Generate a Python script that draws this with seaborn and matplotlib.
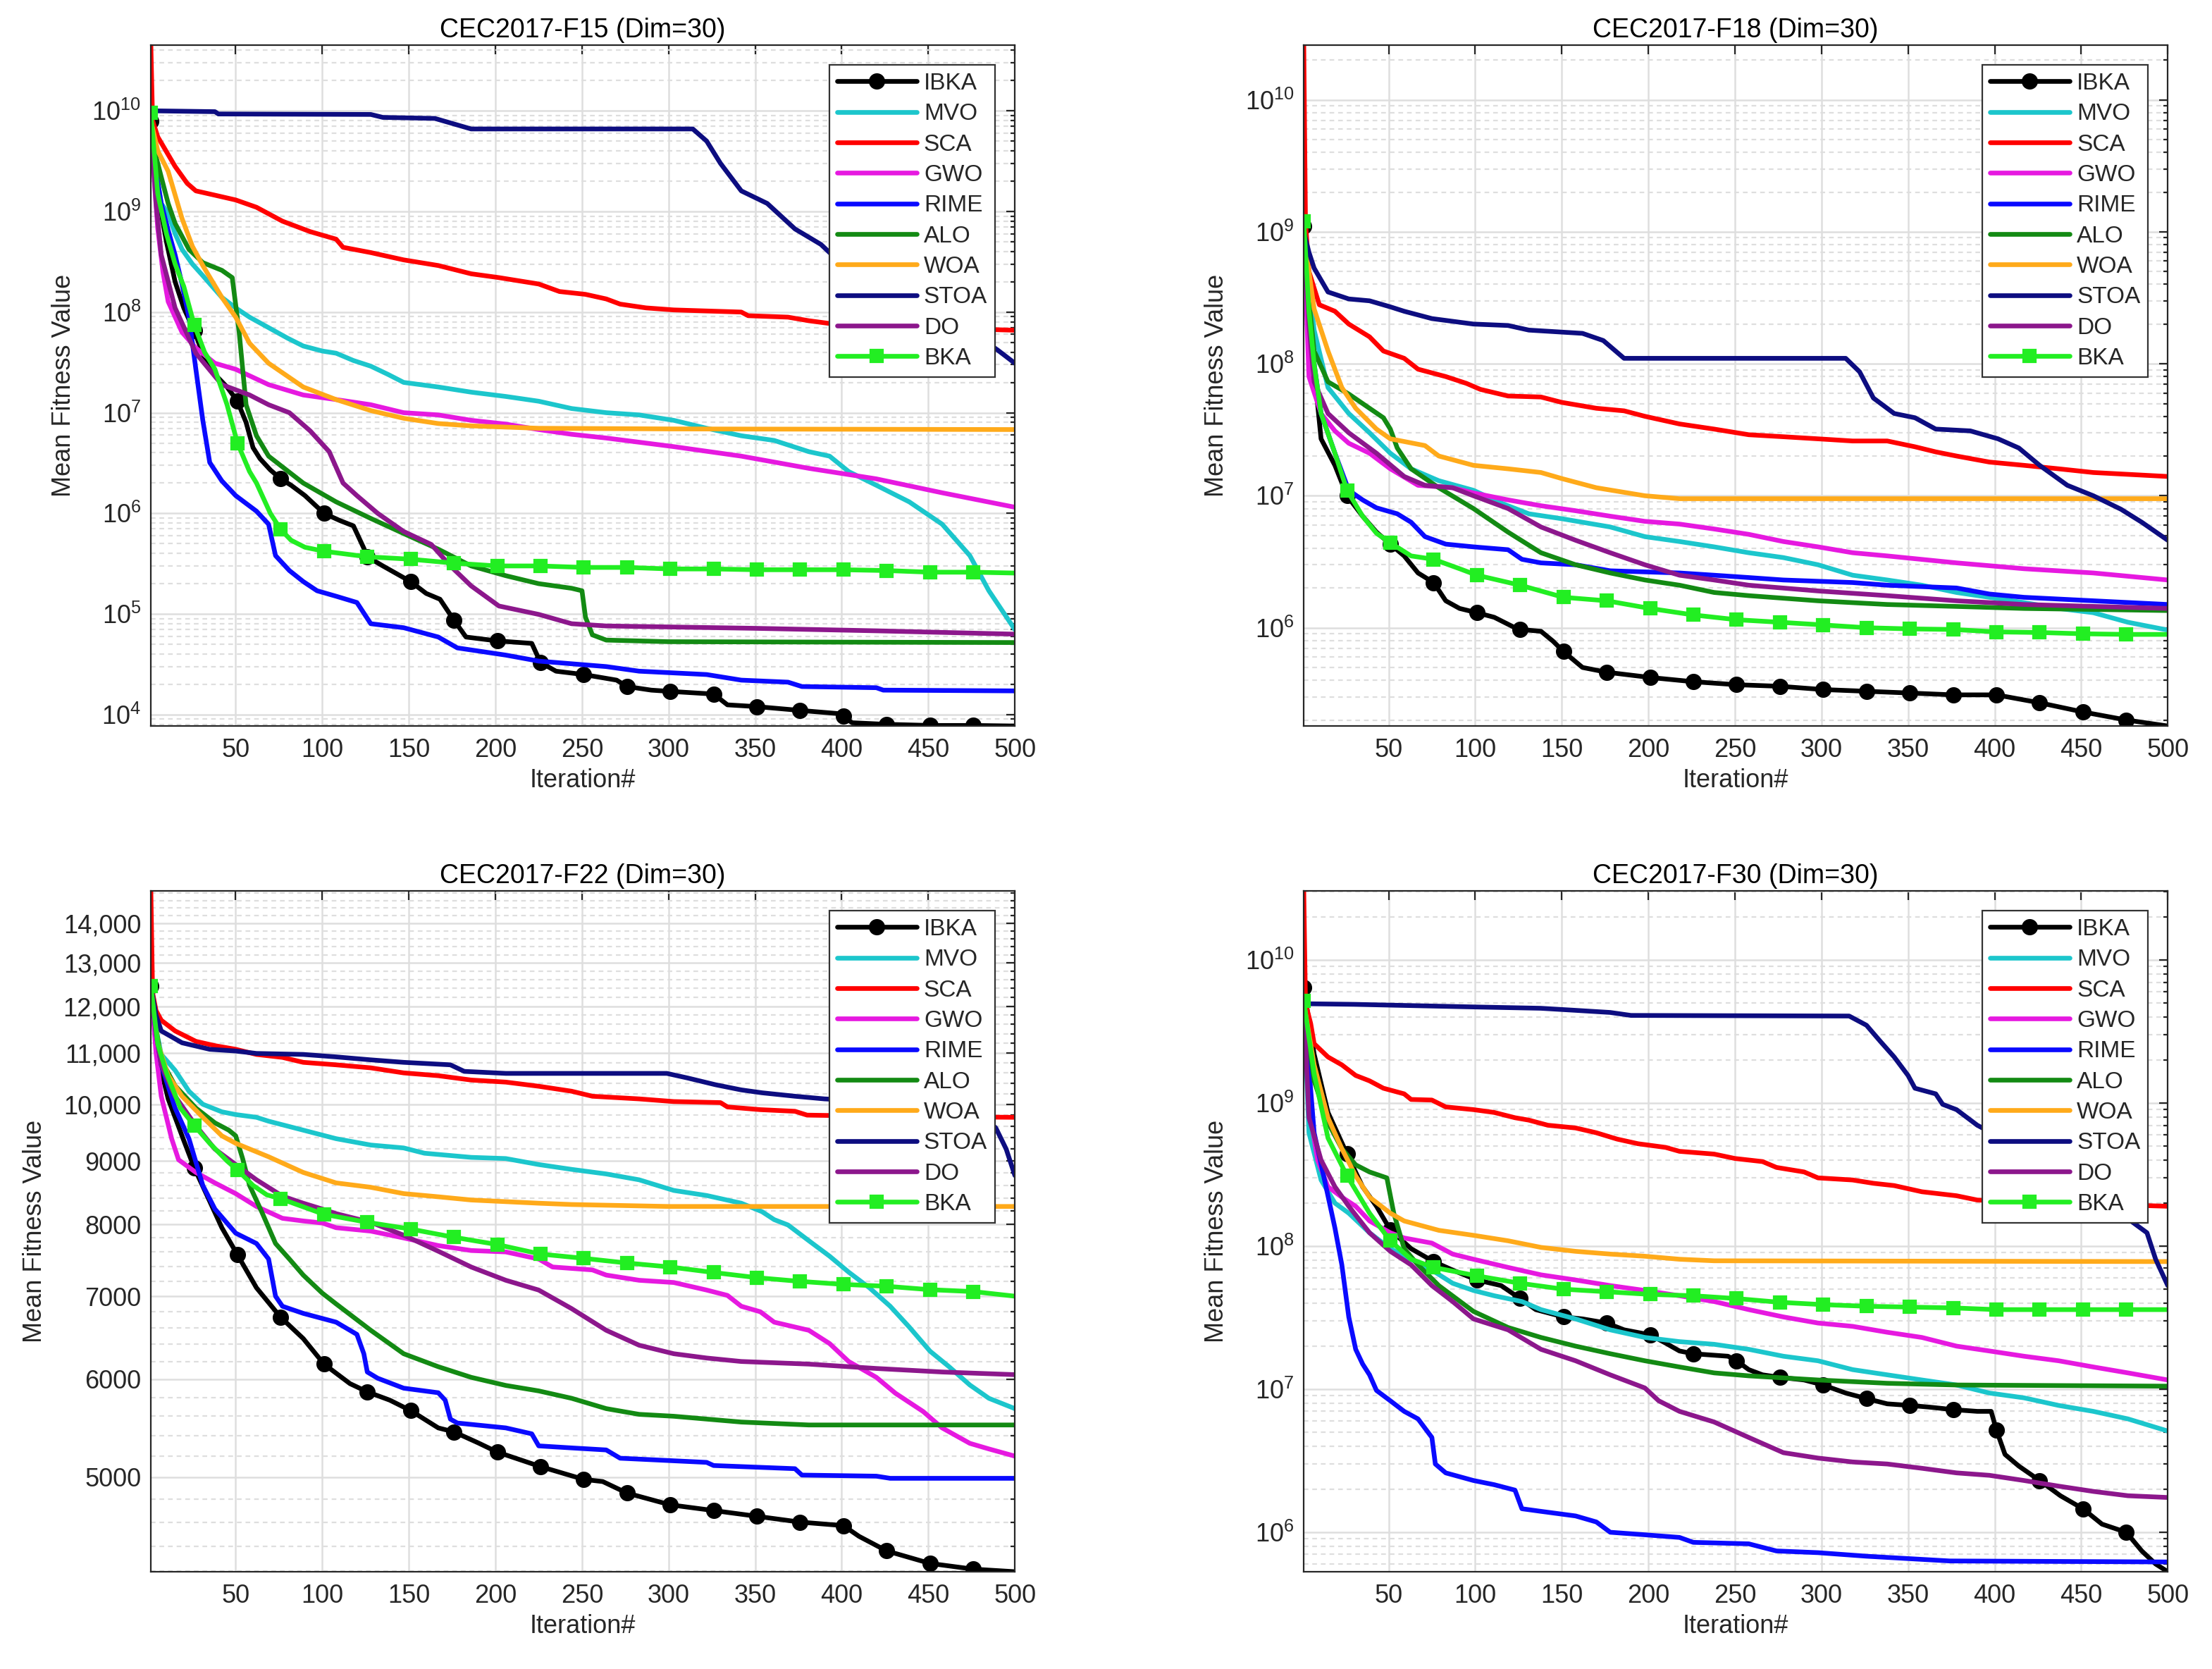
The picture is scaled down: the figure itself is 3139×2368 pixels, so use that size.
import numpy as np
import pandas as pd
import matplotlib
matplotlib.use("Agg")
import matplotlib.pyplot as plt
import seaborn as sns
from matplotlib.ticker import (FixedLocator, FixedFormatter, LogLocator,
                               LogFormatterSciNotation, MultipleLocator, NullFormatter)

# algorithm order = legend order = drawing order
ALGOS = ["IBKA", "MVO", "SCA", "GWO", "RIME", "ALO", "WOA", "STOA", "DO", "BKA"]
COLORS = ["#000000", "#1cc6cc", "#ff0000", "#e619e0", "#0a0aff",
          "#138a13", "#ffaa1a", "#0d0d80", "#8c178c", "#22ee22"]
MARKERS = {"IBKA": "o", "BKA": "s"}

TITLES = ["CEC2017-F15 (Dim=30)", "CEC2017-F18 (Dim=30)",
          "CEC2017-F22 (Dim=30)", "CEC2017-F30 (Dim=30)"]
X_TICKS = [50, 100, 150, 200, 250, 300, 350, 400, 450, 500]
F22_TICKS = [5000, 6000, 7000, 8000, 9000, 10000, 11000, 12000, 13000, 14000]

# ---- F15 : (iteration, mean fitness) ----
F15_IBKA = [(1, 7.9e9), (5, 1.5e9), (10, 5e8), (15, 2e8), (20, 1.1e8), (26, 6.5e7), (32, 3.5e7),
            (38, 2.4e7), (45, 1.8e7), (51, 1.3e7), (56, 8e6), (60, 4.5e6), (64, 3.5e6), (70, 2.7e6),
            (76, 2.2e6), (82, 1.9e6), (90, 1.5e6), (101, 1.0e6), (110, 8.5e5), (118, 7.5e5),
            (124, 4.5e5), (126, 3.7e5), (135, 3.0e5), (145, 2.4e5), (151, 2.1e5), (160, 1.6e5),
            (168, 1.4e5), (176, 8.7e4), (183, 5.9e4), (201, 5.4e4), (221, 5.1e4), (226, 3.3e4),
            (235, 2.7e4), (251, 2.5e4), (270, 2.2e4), (276, 1.9e4), (290, 1.75e4), (301, 1.7e4),
            (326, 1.6e4), (334, 1.25e4), (351, 1.2e4), (376, 1.1e4), (399, 1.02e4), (401, 9.6e3),
            (406, 8.3e3), (426, 8.0e3), (451, 7.8e3), (476, 7.8e3), (500, 7.7e3)]
F15_MVO = [(1, 8e9), (4, 2.5e9), (7, 1.2e9), (11, 9.6e8), (15, 6e8), (19, 4.2e8), (25, 3e8),
           (31, 2.3e8), (42, 1.4e8), (50, 1.1e8), (58, 8.9e7), (69, 7e7), (80, 5.5e7), (89, 4.6e7),
           (100, 4.1e7), (108, 3.9e7), (118, 3.3e7), (128, 2.9e7), (138, 2.4e7), (147, 2.0e7),
           (167, 1.8e7), (186, 1.6e7), (206, 1.45e7), (225, 1.3e7), (244, 1.1e7), (264, 1.0e7),
           (283, 9.5e6), (303, 8.4e6), (322, 7e6), (342, 5.9e6), (361, 5.3e6), (381, 4.1e6),
           (393, 3.7e6), (404, 2.6e6), (420, 1.9e6), (439, 1.3e6), (458, 7.8e5), (474, 3.8e5),
           (485, 1.7e5), (500, 7.0e4)]
F15_SCA = [(1, 4.5e10), (2, 8e9), (5, 5.5e9), (9, 4.2e9), (15, 2.8e9), (22, 1.9e9), (27, 1.6e9),
           (38, 1.45e9), (50, 1.3e9), (62, 1.1e9), (77, 8e8), (93, 6.3e8), (108, 5.3e8),
           (112, 4.4e8), (128, 3.9e8), (147, 3.3e8), (167, 2.9e8), (178, 2.6e8), (186, 2.4e8),
           (202, 2.2e8), (225, 1.9e8), (237, 1.6e8), (252, 1.5e8), (264, 1.35e8), (272, 1.2e8),
           (287, 1.1e8), (303, 1.05e8), (342, 1.0e8), (346, 9.2e7), (369, 8.9e7), (381, 8.2e7),
           (393, 7.7e7), (430, 7.2e7), (460, 6.9e7), (500, 6.6e7)]
F15_GWO = [(1, 8e9), (3, 2e9), (5, 6.7e8), (8, 2.5e8), (11, 1.27e8), (19, 6.3e7), (27, 4.4e7),
           (38, 3.1e7), (50, 2.7e7), (69, 1.9e7), (89, 1.5e7), (108, 1.35e7), (128, 1.2e7),
           (147, 1.0e7), (167, 9.5e6), (186, 8.4e6), (206, 7.7e6), (225, 6.8e6), (244, 6.1e6),
           (264, 5.6e6), (303, 4.6e6), (342, 3.7e6), (381, 2.8e6), (420, 2.2e6), (458, 1.6e6),
           (500, 1.15e6)]
F15_RIME = [(1, 8e9), (4, 2.5e9), (7, 1.2e9), (11, 6.5e8), (15, 3.7e8), (19, 1.9e8), (23, 8.9e7),
            (27, 2.7e7), (31, 8.4e6), (35, 3.2e6), (42, 2.1e6), (50, 1.5e6), (62, 1.05e6),
            (69, 7.8e5), (73, 3.8e5), (81, 2.7e5), (89, 2.1e5), (97, 1.7e5), (108, 1.5e5),
            (120, 1.3e5), (128, 8.0e4), (147, 7.3e4), (167, 5.9e4), (178, 4.6e4), (206, 3.9e4),
            (225, 3.4e4), (264, 3.0e4), (283, 2.7e4), (322, 2.5e4), (342, 2.2e4), (369, 2.1e4),
            (377, 1.9e4), (420, 1.85e4), (424, 1.75e4), (500, 1.72e4)]
F15_ALO = [(1, 8e9), (4, 3.5e9), (7, 2.2e9), (11, 1.2e9), (15, 7.6e8), (23, 4.2e8), (31, 3.1e8),
           (42, 2.6e8), (48, 2.2e8), (52, 6.3e7), (56, 1.2e7), (62, 5.9e6), (69, 3.7e6),
           (89, 2.0e6), (108, 1.3e6), (128, 8.9e5), (147, 6.3e5), (167, 4.4e5), (186, 3.0e5),
           (206, 2.4e5), (225, 2.0e5), (244, 1.8e5), (250, 1.7e5), (252, 9.3e4), (256, 6.2e4),
           (264, 5.5e4), (300, 5.3e4), (500, 5.2e4)]
F15_WOA = [(1, 8e9), (5, 4e9), (11, 2.5e9), (19, 8.5e8), (25, 4.5e8), (31, 2.9e8), (42, 1.4e8),
           (50, 8.9e7), (58, 4.9e7), (69, 3.1e7), (89, 1.8e7), (108, 1.35e7), (128, 1.05e7),
           (147, 8.8e6), (167, 7.8e6), (186, 7.4e6), (225, 7.0e6), (300, 6.9e6), (500, 6.8e6)]
F15_STOA = [(1, 1.0e10), (38, 9.8e9), (40, 9.3e9), (128, 9.2e9), (135, 8.6e9), (165, 8.4e9),
            (186, 6.6e9), (314, 6.6e9), (322, 5e9), (330, 3e9), (342, 1.6e9), (357, 1.2e9),
            (373, 6.7e8), (388, 4.7e8), (400, 3.0e8), (440, 1.2e8), (480, 5.5e7), (490, 4.2e7),
            (500, 3.1e7)]
F15_DO = [(1, 8e9), (4, 1.2e9), (7, 3.7e8), (15, 1.1e8), (27, 3.9e7), (42, 1.9e7), (58, 1.5e7),
          (69, 1.2e7), (81, 1.0e7), (93, 6.6e6), (104, 4.1e6), (112, 2.0e6), (120, 1.5e6),
          (132, 1.0e6), (147, 6.6e5), (163, 4.9e5), (174, 3.0e5), (186, 1.9e5), (202, 1.2e5),
          (225, 9.9e4), (244, 8.0e4), (264, 7.6e4), (350, 7.2e4), (420, 6.8e4), (500, 6.3e4)]
F15_BKA = [(1, 9.5e9), (5, 1.5e9), (10, 6e8), (15, 3e8), (20, 1.8e8), (26, 7.5e7), (32, 4e7),
           (38, 2.7e7), (45, 1.2e7), (51, 5e6), (58, 2.6e6), (62, 2e6), (70, 1e6), (76, 6.9e5),
           (82, 5.4e5), (90, 4.6e5), (101, 4.2e5), (126, 3.7e5), (151, 3.5e5), (176, 3.2e5),
           (201, 3.0e5), (226, 3.0e5), (251, 2.9e5), (276, 2.9e5), (301, 2.8e5), (326, 2.8e5),
           (351, 2.75e5), (376, 2.75e5), (401, 2.75e5), (426, 2.7e5), (451, 2.6e5), (476, 2.6e5),
           (500, 2.55e5)]

# ---- F18 ----
F18_IBKA = [(1, 1.1e9), (4, 3e8), (7, 9e7), (11, 2.7e7), (19, 1.7e7), (26, 1.0e7), (35, 7.0e6),
            (43, 5.3e6), (51, 4.3e6), (59, 3.5e6), (67, 2.6e6), (76, 2.2e6), (83, 1.6e6),
            (91, 1.4e6), (101, 1.3e6), (111, 1.2e6), (123, 1.0e6), (126, 9.7e5), (138, 9.4e5),
            (145, 7.9e5), (151, 6.6e5), (162, 5.0e5), (176, 4.6e5), (201, 4.2e5), (226, 3.9e5),
            (251, 3.7e5), (276, 3.6e5), (301, 3.4e5), (326, 3.3e5), (351, 3.2e5), (376, 3.1e5),
            (401, 3.1e5), (426, 2.7e5), (451, 2.3e5), (476, 2.0e5), (500, 1.8e5)]
F18_MVO = [(1, 1e9), (4, 4e8), (7, 1.8e8), (15, 6.6e7), (27, 4.2e7), (39, 3.0e7), (51, 2.1e7),
           (63, 1.6e7), (79, 1.3e7), (99, 1.1e7), (115, 8.8e6), (131, 7.3e6), (150, 6.7e6),
           (178, 5.8e6), (198, 4.9e6), (218, 4.5e6), (238, 4.1e6), (258, 3.7e6), (278, 3.4e6),
           (298, 3.0e6), (318, 2.5e6), (338, 2.3e6), (358, 2.1e6), (378, 1.85e6), (397, 1.7e6),
           (417, 1.55e6), (437, 1.4e6), (457, 1.3e6), (477, 1.1e6), (500, 9.6e5)]
F18_SCA = [(1, 2.6e10), (2, 1.2e9), (4, 5e8), (10, 2.8e8), (19, 2.5e8), (27, 2.0e8), (39, 1.6e8),
           (47, 1.25e8), (59, 1.1e8), (67, 9.1e7), (83, 8.0e7), (95, 7.1e7), (103, 6.4e7),
           (119, 5.7e7), (138, 5.6e7), (150, 5.1e7), (170, 4.6e7), (186, 4.4e7), (198, 4.0e7),
           (218, 3.5e7), (238, 3.2e7), (258, 2.9e7), (278, 2.8e7), (298, 2.7e7), (318, 2.6e7),
           (338, 2.6e7), (354, 2.35e7), (366, 2.15e7), (378, 2.0e7), (397, 1.8e7), (417, 1.7e7),
           (437, 1.6e7), (457, 1.5e7), (500, 1.4e7)]
F18_GWO = [(1, 1e9), (4, 8e7), (11, 4.2e7), (19, 3.1e7), (27, 2.5e7), (39, 2.1e7), (51, 1.6e7),
           (67, 1.2e7), (87, 1.15e7), (99, 1.05e7), (119, 9.3e6), (138, 8.4e6), (158, 7.7e6),
           (178, 7.0e6), (198, 6.4e6), (218, 6.1e6), (238, 5.6e6), (258, 5.1e6), (278, 4.5e6),
           (298, 4.1e6), (318, 3.7e6), (338, 3.5e6), (378, 3.1e6), (417, 2.8e6), (457, 2.6e6),
           (500, 2.3e6)]
F18_RIME = [(1, 1e9), (4, 2.5e8), (7, 1.0e8), (11, 4.2e7), (19, 2.1e7), (27, 1.1e7), (35, 9.3e6),
            (43, 8.1e6), (55, 7.3e6), (63, 6.3e6), (71, 4.9e6), (83, 4.3e6), (99, 4.1e6),
            (119, 3.9e6), (127, 3.3e6), (138, 3.1e6), (158, 3.0e6), (178, 2.7e6), (218, 2.6e6),
            (238, 2.5e6), (258, 2.4e6), (278, 2.3e6), (318, 2.2e6), (338, 2.1e6), (378, 2.0e6),
            (397, 1.8e6), (417, 1.7e6), (457, 1.6e6), (500, 1.5e6)]
F18_ALO = [(1, 1e9), (4, 3e8), (7, 1.25e8), (15, 7.3e7), (27, 5.9e7), (39, 4.6e7), (47, 3.9e7),
           (51, 3.2e7), (55, 2.3e7), (63, 1.6e7), (79, 1.15e7), (99, 8.0e6), (119, 5.3e6),
           (138, 3.7e6), (158, 3.0e6), (178, 2.6e6), (198, 2.3e6), (218, 2.1e6), (238, 1.85e6),
           (258, 1.75e6), (298, 1.6e6), (338, 1.5e6), (378, 1.45e6), (417, 1.4e6), (500, 1.35e6)]
F18_WOA = [(1, 1e9), (4, 5e8), (7, 2.6e8), (15, 1.25e8), (23, 6.6e7), (31, 4.6e7), (43, 3.2e7),
           (51, 2.7e7), (71, 2.4e7), (79, 2.0e7), (99, 1.7e7), (119, 1.6e7), (138, 1.5e7),
           (150, 1.35e7), (170, 1.15e7), (198, 1.0e7), (218, 9.5e6), (500, 9.5e6)]
F18_STOA = [(1, 1e9), (4, 7e8), (7, 5.3e8), (15, 3.5e8), (27, 3.1e8), (39, 3.0e8), (51, 2.7e8),
            (59, 2.5e8), (75, 2.2e8), (99, 2.0e8), (119, 1.95e8), (131, 1.8e8), (162, 1.7e8),
            (174, 1.5e8), (186, 1.1e8), (314, 1.1e8), (322, 8.7e7), (330, 5.5e7), (342, 4.2e7),
            (354, 3.9e7), (366, 3.2e7), (386, 3.1e7), (402, 2.7e7), (414, 2.3e7), (426, 1.7e7),
            (442, 1.2e7), (457, 1.0e7), (473, 7.9e6), (485, 6.3e6), (500, 4.6e6)]
F18_DO = [(1, 1e9), (4, 2e8), (7, 7.3e7), (15, 4.2e7), (27, 3.0e7), (43, 2.1e7), (59, 1.4e7),
          (71, 1.2e7), (87, 1.15e7), (99, 1.0e7), (119, 8.0e6), (138, 5.8e6), (158, 4.6e6),
          (178, 3.7e6), (198, 3.0e6), (218, 2.5e6), (238, 2.3e6), (258, 2.1e6), (298, 1.9e6),
          (338, 1.75e6), (378, 1.6e6), (417, 1.5e6), (500, 1.4e6)]
F18_BKA = [(1, 1.2e9), (4, 2.5e8), (7, 1e8), (11, 4.2e7), (19, 2.1e7), (26, 1.1e7), (35, 7.0e6),
           (43, 5.2e6), (51, 4.4e6), (63, 3.5e6), (76, 3.3e6), (91, 2.8e6), (101, 2.5e6),
           (126, 2.1e6), (151, 1.7e6), (176, 1.6e6), (201, 1.4e6), (226, 1.25e6), (251, 1.15e6),
           (276, 1.1e6), (301, 1.05e6), (326, 1.0e6), (351, 9.8e5), (376, 9.7e5), (401, 9.3e5),
           (426, 9.2e5), (451, 9.0e5), (476, 8.9e5), (500, 8.9e5)]

# ---- F22 ----
F22_IBKA = [(1, 12450), (4, 11400), (7, 10650), (11, 10100), (15, 9760), (20, 9350), (26, 8890),
            (35, 8350), (42, 7950), (51, 7560), (62, 7110), (76, 6730), (89, 6470), (101, 6170),
            (116, 5950), (126, 5860), (139, 5770), (151, 5660), (167, 5480), (176, 5440),
            (190, 5330), (201, 5240), (226, 5100), (251, 4980), (262, 4960), (276, 4855),
            (301, 4750), (326, 4700), (351, 4650), (376, 4600), (401, 4570), (410, 4480),
            (426, 4360), (451, 4260), (476, 4215), (500, 4195)]
F22_MVO = [(1, 12450), (4, 11500), (7, 10970), (15, 10650), (23, 10245), (31, 10000), (42, 9860),
           (50, 9810), (62, 9760), (69, 9690), (89, 9530), (108, 9380), (128, 9270), (147, 9220),
           (159, 9130), (186, 9060), (206, 9040), (225, 8940), (244, 8860), (264, 8785),
           (283, 8690), (303, 8520), (322, 8440), (342, 8320), (354, 8190), (361, 8070),
           (369, 7990), (381, 7760), (393, 7540), (404, 7320), (416, 7110), (428, 6870),
           (439, 6610), (451, 6320), (462, 6140), (474, 5935), (485, 5790), (500, 5680)]
F22_SCA = [(1, 14870), (2, 12300), (4, 11900), (7, 11690), (15, 11460), (27, 11240), (38, 11150),
           (50, 11075), (62, 10970), (77, 10910), (89, 10810), (108, 10760), (128, 10700),
           (147, 10600), (167, 10545), (186, 10460), (206, 10420), (225, 10340), (244, 10245),
           (256, 10150), (283, 10100), (303, 10050), (330, 10030), (334, 9950), (353, 9900),
           (373, 9870), (380, 9800), (420, 9780), (500, 9760)]
F22_GWO = [(1, 12450), (4, 11000), (7, 10150), (13, 9380), (17, 9020), (27, 8810), (38, 8640),
           (50, 8470), (62, 8270), (77, 8090), (89, 8050), (100, 8020), (108, 7950), (128, 7900),
           (147, 7800), (167, 7690), (186, 7620), (206, 7600), (225, 7500), (233, 7390),
           (256, 7350), (264, 7280), (283, 7210), (303, 7180), (322, 7080), (334, 7010),
           (342, 6870), (353, 6800), (361, 6670), (381, 6570), (393, 6410), (404, 6200),
           (420, 6020), (431, 5845), (447, 5650), (458, 5480), (474, 5325), (485, 5270),
           (500, 5200)]
F22_RIME = [(1, 12450), (4, 11400), (7, 10760), (15, 9930), (23, 9380), (31, 8600), (38, 8230),
            (50, 7870), (62, 7720), (69, 7500), (73, 7000), (77, 6870), (89, 6780), (108, 6670),
            (120, 6520), (124, 6290), (126, 6080), (132, 6010), (147, 5900), (167, 5850),
            (171, 5770), (174, 5570), (178, 5530), (206, 5480), (221, 5420), (225, 5300),
            (244, 5280), (264, 5260), (272, 5180), (322, 5140), (326, 5110), (373, 5080),
            (377, 5020), (420, 5010), (428, 4990), (500, 4990)]
F22_ALO = [(1, 12450), (4, 11500), (7, 10860), (15, 10350), (27, 9930), (38, 9660), (46, 9530),
           (50, 9430), (54, 9040), (58, 8600), (65, 8190), (73, 7720), (81, 7500), (89, 7280),
           (100, 7040), (108, 6900), (128, 6570), (147, 6290), (167, 6140), (186, 6020),
           (206, 5930), (225, 5870), (244, 5790), (264, 5680), (283, 5620), (303, 5600),
           (342, 5540), (381, 5510), (500, 5510)]
F22_WOA = [(1, 12450), (5, 11200), (11, 10550), (19, 10150), (31, 9760), (42, 9430), (50, 9300),
           (69, 9070), (89, 8810), (108, 8640), (128, 8570), (147, 8470), (167, 8420), (186, 8370),
           (225, 8320), (244, 8300), (300, 8270), (500, 8270)]
F22_STOA = [(1, 12450), (4, 11800), (7, 11460), (19, 11210), (35, 11075), (50, 11040),
            (62, 10990), (89, 10970), (108, 10920), (128, 10860), (147, 10810), (174, 10760),
            (182, 10630), (206, 10590), (299, 10590), (311, 10500), (327, 10370), (342, 10270),
            (354, 10215), (373, 10150), (390, 10100), (420, 10050), (460, 10000), (480, 9800),
            (489, 9570), (495, 9200), (500, 8760)]
F22_DO = [(1, 12450), (4, 11400), (7, 10760), (15, 10150), (27, 9610), (38, 9200), (50, 8940),
          (62, 8690), (77, 8430), (89, 8320), (100, 8230), (108, 8160), (128, 8030), (147, 7840),
          (167, 7610), (186, 7390), (206, 7210), (225, 7080), (244, 6840), (264, 6570),
          (283, 6390), (303, 6290), (322, 6240), (342, 6200), (381, 6170), (420, 6120),
          (458, 6080), (500, 6050)]
F22_BKA = [(1, 12450), (5, 11185), (10, 10600), (18, 9930), (26, 9615), (35, 9300), (45, 9000),
           (51, 8850), (60, 8600), (68, 8450), (76, 8390), (101, 8150), (126, 8030), (151, 7930),
           (176, 7810), (201, 7705), (226, 7570), (251, 7510), (276, 7445), (301, 7390),
           (326, 7315), (351, 7245), (376, 7195), (401, 7155), (426, 7130), (451, 7085),
           (476, 7060), (500, 7000)]

# ---- F30 ----
F30_IBKA = [(1, 6.4e9), (7, 2.2e9), (15, 8.6e8), (26, 4.4e8), (35, 2.6e8), (43, 1.9e8),
            (51, 1.3e8), (63, 9.6e7), (76, 7.8e7), (87, 6.8e7), (101, 5.8e7), (115, 5.3e7),
            (126, 4.3e7), (135, 3.6e7), (151, 3.2e7), (162, 3.1e7), (176, 2.9e7), (186, 2.6e7),
            (201, 2.4e7), (210, 2.1e7), (218, 1.85e7), (226, 1.77e7), (246, 1.7e7), (251, 1.58e7),
            (258, 1.37e7), (266, 1.26e7), (276, 1.21e7), (290, 1.16e7), (301, 1.07e7),
            (314, 9.4e6), (326, 8.6e6), (338, 7.9e6), (351, 7.7e6), (362, 7.5e6), (376, 7.2e6),
            (390, 7.0e6), (398, 7.0e6), (401, 5.2e6), (406, 3.5e6), (414, 2.9e6), (426, 2.3e6),
            (438, 1.8e6), (451, 1.46e6), (462, 1.14e6), (476, 1.0e6), (485, 7.4e5), (493, 6.0e5),
            (500, 5.3e5)]
F30_MVO = [(1, 5e9), (4, 6.2e8), (11, 2.9e8), (19, 2.0e8), (27, 1.7e8), (39, 1.24e8), (51, 9.6e7),
           (63, 8.1e7), (75, 6.8e7), (87, 5.5e7), (99, 4.9e7), (111, 4.5e7), (127, 4.1e7),
           (138, 3.6e7), (158, 3.1e7), (178, 2.6e7), (198, 2.3e7), (218, 2.15e7), (238, 2.06e7),
           (258, 1.9e7), (278, 1.7e7), (298, 1.58e7), (318, 1.37e7), (338, 1.26e7), (358, 1.16e7),
           (378, 1.07e7), (397, 9.4e6), (417, 8.7e6), (437, 7.7e6), (457, 7.0e6), (477, 6.2e6),
           (500, 5.1e6)]
F30_SCA = [(1, 3.05e10), (2, 5e9), (5, 3.6e9), (7, 2.6e9), (15, 2.1e9), (23, 1.85e9), (31, 1.56e9),
           (39, 1.43e9), (47, 1.27e9), (59, 1.16e9), (63, 1.06e9), (75, 1.05e9), (83, 9.4e8),
           (99, 9.0e8), (111, 8.6e8), (123, 7.9e8), (131, 7.6e8), (142, 7.0e8), (158, 6.7e8),
           (170, 6.2e8), (182, 5.6e8), (194, 5.2e8), (210, 4.9e8), (218, 4.6e8), (238, 4.4e8),
           (250, 4.1e8), (266, 3.9e8), (274, 3.55e8), (290, 3.3e8), (298, 3.0e8), (318, 2.9e8),
           (330, 2.75e8), (342, 2.65e8), (358, 2.4e8), (378, 2.25e8), (390, 2.1e8), (440, 2.0e8),
           (500, 1.9e8)]
F30_GWO = [(1, 5e9), (4, 9.4e8), (9, 4.0e8), (15, 2.6e8), (23, 2.2e8), (31, 1.9e8), (39, 1.5e8),
           (51, 1.24e8), (59, 1.14e8), (75, 1.05e8), (87, 8.8e7), (99, 8.1e7), (119, 7.1e7),
           (138, 6.3e7), (158, 5.8e7), (178, 5.3e7), (198, 4.9e7), (218, 4.5e7), (238, 4.1e7),
           (258, 3.6e7), (278, 3.2e7), (298, 2.9e7), (318, 2.75e7), (338, 2.5e7), (358, 2.3e7),
           (378, 2.0e7), (397, 1.85e7), (417, 1.7e7), (437, 1.58e7), (457, 1.43e7), (477, 1.3e7),
           (500, 1.16e7)]
F30_RIME = [(1, 5e9), (7, 6.2e8), (13, 2.9e8), (19, 1.34e8), (23, 7.4e7), (27, 3.2e7), (31, 1.9e7),
            (35, 1.5e7), (39, 1.26e7), (43, 9.8e6), (51, 8.3e6), (59, 7.0e6), (67, 6.2e6),
            (75, 4.6e6), (77, 3.0e6), (83, 2.6e6), (99, 2.3e6), (111, 2.15e6), (123, 1.97e6),
            (127, 1.46e6), (138, 1.4e6), (158, 1.3e6), (170, 1.18e6), (178, 1.0e6), (198, 9.6e5),
            (218, 9.2e5), (226, 8.5e5), (258, 8.3e5), (274, 7.4e5), (298, 7.2e5), (326, 6.8e5),
            (374, 6.3e5), (500, 6.2e5)]
F30_ALO = [(1, 5e9), (7, 1.43e9), (15, 7.3e8), (23, 4.8e8), (31, 3.7e8), (39, 3.3e8), (49, 3.0e8),
           (53, 1.7e8), (59, 9.6e7), (67, 7.4e7), (79, 5.3e7), (99, 3.5e7), (119, 2.7e7),
           (138, 2.3e7), (158, 2.0e7), (178, 1.77e7), (198, 1.58e7), (218, 1.43e7), (238, 1.3e7),
           (258, 1.24e7), (298, 1.16e7), (338, 1.1e7), (378, 1.07e7), (500, 1.05e7)]
F30_WOA = [(1, 5e9), (7, 1.85e9), (15, 7.9e8), (23, 4.8e8), (31, 3.1e8), (39, 2.2e8), (51, 1.7e8),
           (59, 1.5e8), (79, 1.29e8), (99, 1.19e8), (119, 1.09e8), (138, 9.8e7), (158, 9.2e7),
           (178, 8.8e7), (198, 8.5e7), (218, 8.1e7), (238, 7.9e7), (500, 7.8e7)]
F30_STOA = [(1, 4.95e9), (30, 4.9e9), (99, 4.7e9), (138, 4.6e9), (158, 4.45e9), (178, 4.3e9),
            (190, 4.1e9), (316, 4.06e9), (326, 3.5e9), (334, 2.7e9), (342, 2.1e9), (350, 1.56e9),
            (354, 1.27e9), (366, 1.16e9), (370, 9.8e8), (378, 9.0e8), (390, 7.0e8), (420, 4.5e8),
            (460, 2.2e8), (488, 1.24e8), (493, 8.1e7), (500, 5.3e7)]
F30_DO = [(1, 5e9), (4, 7.9e8), (11, 4.0e8), (19, 2.6e8), (27, 1.9e8), (39, 1.24e8), (51, 9.2e7),
          (63, 7.4e7), (75, 5.3e7), (87, 4.1e7), (99, 3.1e7), (119, 2.6e7), (138, 1.9e7),
          (158, 1.58e7), (178, 1.26e7), (198, 1.02e7), (206, 8.3e6), (218, 7.0e6), (238, 5.9e6),
          (258, 4.6e6), (278, 3.6e6), (298, 3.3e6), (318, 3.1e6), (338, 3.0e6), (358, 2.8e6),
          (378, 2.6e6), (397, 2.5e6), (417, 2.3e6), (437, 2.1e6), (457, 1.93e6), (477, 1.8e6),
          (500, 1.75e6)]
F30_BKA = [(1, 5.2e9), (7, 1.6e9), (15, 5.7e8), (26, 3.1e8), (39, 1.7e8), (51, 1.09e8), (63, 8.1e7),
           (76, 7.1e7), (101, 6.2e7), (126, 5.5e7), (151, 5.0e7), (176, 4.8e7), (201, 4.6e7),
           (226, 4.5e7), (251, 4.3e7), (276, 4.05e7), (301, 3.9e7), (326, 3.8e7), (351, 3.75e7),
           (376, 3.7e7), (401, 3.6e7), (426, 3.6e7), (451, 3.6e7), (476, 3.6e7), (500, 3.6e7)]

F15 = [F15_IBKA, F15_MVO, F15_SCA, F15_GWO, F15_RIME, F15_ALO, F15_WOA, F15_STOA, F15_DO, F15_BKA]
F18 = [F18_IBKA, F18_MVO, F18_SCA, F18_GWO, F18_RIME, F18_ALO, F18_WOA, F18_STOA, F18_DO, F18_BKA]
F22 = [F22_IBKA, F22_MVO, F22_SCA, F22_GWO, F22_RIME, F22_ALO, F22_WOA, F22_STOA, F22_DO, F22_BKA]
F30 = [F30_IBKA, F30_MVO, F30_SCA, F30_GWO, F30_RIME, F30_ALO, F30_WOA, F30_STOA, F30_DO, F30_BKA]

TXT = "#262626"
GRID = "#dedede"


def draw_panel(ax, title, curves, fixed_ticks=None):
    all_y = []
    for name, color, pts in zip(ALGOS, COLORS, curves):
        df = pd.DataFrame(pts, columns=["Iteration", "Fitness"])
        all_y.extend(df["Fitness"])
        kw = {}
        if name in MARKERS:
            # markers every 25 iterations, starting at the first one
            every = [i for i, it in enumerate(df["Iteration"]) if (it - 1) % 25 == 0]
            kw = dict(marker=MARKERS[name], markevery=every,
                      markersize=7.5 if name == "IBKA" else 6.5,
                      markerfacecolor=color, markeredgecolor=color, markeredgewidth=0.8)
        sns.lineplot(data=df, x="Iteration", y="Fitness", ax=ax, color=color, linewidth=2.4,
                     label=name, estimator=None, sort=False, **kw)

    ax.set_yscale("log")
    ax.set_xlim(1, 500)
    ax.set_ylim(min(all_y), max(all_y))
    ax.xaxis.set_major_locator(FixedLocator(X_TICKS))

    if fixed_ticks is None:
        ax.yaxis.set_major_locator(LogLocator(base=10, numticks=30))
        ax.yaxis.set_major_formatter(LogFormatterSciNotation())
        ax.yaxis.set_minor_locator(LogLocator(base=10, subs=np.arange(2, 10), numticks=100))
    else:
        ax.yaxis.set_major_locator(FixedLocator(fixed_ticks))
        ax.yaxis.set_major_formatter(FixedFormatter(
            [f"{v:,}" if v >= 10000 else str(v) for v in fixed_ticks]))
        ax.yaxis.set_minor_locator(MultipleLocator(200))
    ax.yaxis.set_minor_formatter(NullFormatter())

    ax.set_axisbelow(True)
    ax.grid(True, which="major", color=GRID, linewidth=0.9, linestyle="-")
    ax.grid(True, which="minor", axis="y", color=GRID, linewidth=0.8, linestyle=(0, (3, 2.5)))

    ax.tick_params(which="both", direction="in", top=True, right=True, colors=TXT,
                   labelsize=13, width=0.8)
    ax.tick_params(which="major", length=4.5)
    ax.tick_params(which="minor", length=2.3)
    ax.tick_params(axis="x", pad=6)
    ax.tick_params(axis="y", pad=5)
    for sp in ax.spines.values():
        sp.set_color(TXT)
        sp.set_linewidth(0.8)

    ax.set_title(title, fontsize=13.5, color="#000000", pad=4)
    ax.set_xlabel("Iteration#", fontsize=13, color=TXT, labelpad=3)
    ax.set_ylabel("Mean Fitness Value", fontsize=13, color=TXT, labelpad=8)

    ax.legend(loc="upper right", bbox_to_anchor=(1 - 28 / 1226, 1 - 28 / 964), borderaxespad=0,
              fontsize=12, frameon=True, fancybox=False, framealpha=1, edgecolor="#333333",
              handlelength=3.4, handletextpad=0.3, labelspacing=0.37, borderpad=0.33)
    ax.get_legend().get_frame().set_linewidth(0.8)


def main():
    sns.set_style("white")
    plt.rcParams["font.family"] = ["Liberation Sans", "DejaVu Sans"]
    plt.rcParams["mathtext.fontset"] = "custom"
    plt.rcParams["mathtext.rm"] = "Liberation Sans"
    plt.rcParams["mathtext.it"] = "Liberation Sans:italic"
    plt.rcParams["mathtext.bf"] = "Liberation Sans:bold"

    fig = plt.figure(figsize=(3139 / 200, 2368 / 200), dpi=200)
    fig.patch.set_facecolor("white")

    left_x, right_x, w = 0.0682, 0.5894, 0.3906
    top_y, bot_y, h = 0.565, 0.0583, 0.408
    boxes = [(left_x, top_y), (right_x, top_y), (left_x, bot_y), (right_x, bot_y)]
    panels = [F15, F18, F22, F30]

    for i, ((x0, y0), curves) in enumerate(zip(boxes, panels)):
        ax = fig.add_axes([x0, y0, w, h])
        draw_panel(ax, TITLES[i], curves, fixed_ticks=F22_TICKS if i == 2 else None)

    fig.savefig("out.png", dpi=200, facecolor="white")


if __name__ == "__main__":
    main()
